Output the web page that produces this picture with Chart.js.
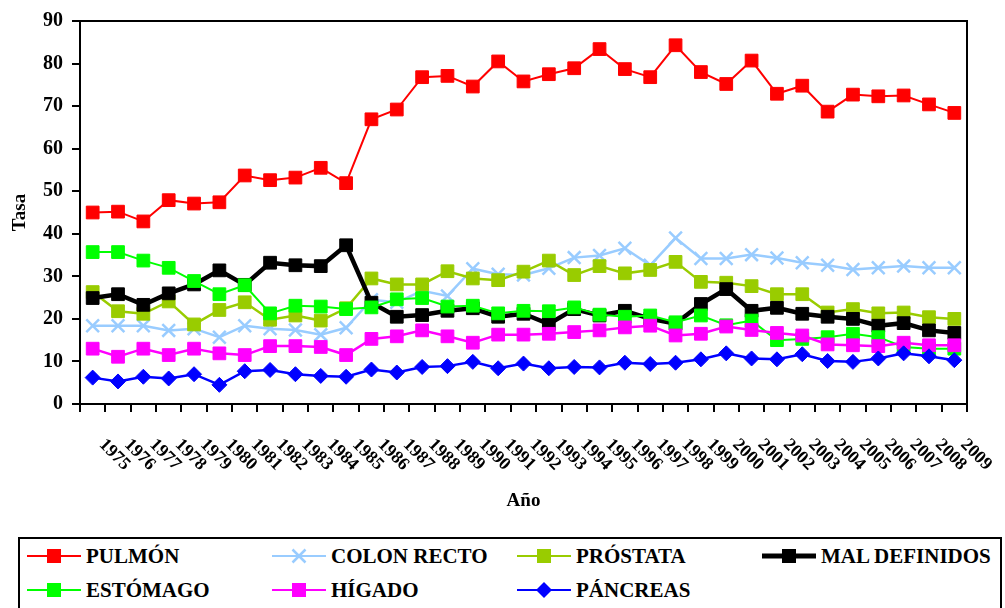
<!DOCTYPE html>
<html>
<head>
<meta charset="utf-8">
<script src="https://cdn.jsdelivr.net/npm/chart.js@4.4.1/dist/chart.umd.min.js"></script>
<style>
  body { margin: 0; background: #fff; }
  #wrap { position: relative; width: 1005px; height: 608px; overflow: hidden; }
  #chart { position: absolute; left: 0; top: 0; }
  #legend {
    position: absolute; left: 18px; top: 537px; width: 984px; height: 84px;
    box-sizing: border-box; border: 2px solid #000; padding-left: 7px;
    display: grid; grid-template-columns: repeat(4, 245px); grid-auto-rows: 34px;
    font-family: "Liberation Serif", "Times New Roman", serif;
    font-weight: bold; font-size: 21px; color: #000;
  }
  .item { display: flex; align-items: center; white-space: nowrap; }
  .item svg { margin-right: 5px; flex: none; }
</style>
</head>
<body>
<div id="wrap">
  <canvas id="chart" width="1005" height="530"></canvas>
  <div id="legend"></div>
</div>
<script>
const years = ['1975', '1976', '1977', '1978', '1979', '1980', '1981', '1982', '1983', '1984',
    '1985', '1986', '1987', '1988', '1989', '1990', '1991', '1992', '1993', '1994',
    '1995', '1996', '1997', '1998', '1999', '2000', '2001', '2002', '2003', '2004',
    '2005', '2006', '2007', '2008', '2009'];

const names = ['PULMÓN', 'COLON RECTO', 'PRÓSTATA', 'MAL DEFINIDOS', 'ESTÓMAGO', 'HÍGADO', 'PÁNCREAS'];

const pulmon = [45.0, 45.2, 42.9, 47.9, 47.1, 47.4, 53.7, 52.6, 53.2, 55.5, 51.9, 66.9, 69.2, 76.8, 77.1, 74.6, 80.5, 75.8,
    77.5, 78.9, 83.4, 78.7, 76.8, 84.3, 78.0, 75.2, 80.7, 72.9, 74.8, 68.7, 72.7, 72.3, 72.5, 70.4, 68.4];
const colonRecto = [18.4, 18.4, 18.4, 17.3, 17.7, 15.7, 18.4, 17.7, 17.4, 16.3, 17.9, 24.5, 23.9, 26.6, 25.4, 31.8, 30.5, 30.3,
    31.9, 34.4, 34.9, 36.6, 32.6, 39.0, 34.2, 34.2, 35.1, 34.3, 33.2, 32.6, 31.6, 32.0, 32.4, 32.0, 32.0];
const prostata = [26.3, 21.8, 21.2, 24.1, 18.7, 22.1, 23.9, 19.8, 20.8, 19.6, 22.5, 29.5, 28.1, 28.1, 31.2, 29.5, 29.1, 31.1,
    33.7, 30.3, 32.4, 30.7, 31.5, 33.4, 28.7, 28.5, 27.7, 25.8, 25.8, 21.5, 22.3, 21.3, 21.5, 20.4, 20.0];
const malDefinidos = [24.9, 25.8, 23.3, 26.0, 28.1, 31.4, 28.0, 33.2, 32.6, 32.4, 37.3, 23.8, 20.5, 20.9, 21.9, 22.5, 20.5, 21.2,
    18.8, 22.3, 20.8, 21.9, 20.0, 18.9, 23.5, 27.0, 21.9, 22.6, 21.2, 20.5, 20.0, 18.4, 19.0, 17.3, 16.7];
const estomago = [35.7, 35.7, 33.7, 32.0, 28.9, 25.8, 27.9, 21.3, 23.1, 22.9, 22.3, 22.7, 24.6, 24.9, 22.9, 23.1, 21.3, 21.9,
    21.8, 22.7, 21.0, 20.5, 20.8, 19.2, 20.8, 18.5, 19.6, 15.0, 15.3, 15.7, 16.5, 15.7, 13.4, 13.0, 13.0];
const higado = [13.0, 11.1, 13.0, 11.5, 13.0, 11.9, 11.5, 13.6, 13.6, 13.4, 11.5, 15.3, 15.9, 17.3, 15.9, 14.4, 16.3, 16.3,
    16.5, 16.9, 17.3, 18.0, 18.4, 16.1, 16.5, 18.2, 17.4, 16.7, 16.1, 14.0, 13.8, 13.6, 14.4, 13.8, 13.8];
const pancreas = [6.2, 5.3, 6.4, 6.0, 7.0, 4.5, 7.7, 8.0, 7.0, 6.6, 6.4, 8.1, 7.4, 8.7, 8.9, 9.9, 8.4, 9.5,
    8.4, 8.7, 8.6, 9.7, 9.4, 9.7, 10.5, 11.9, 10.7, 10.5, 11.7, 10.1, 9.9, 10.7, 11.9, 11.2, 10.3];

const serif = 'Liberation Serif';

// estilo de cada serie: color, forma del marcador, grosor de línea
const styles = [
    { color: '#FF0000', shape: 'rect', line: 2 },
    { color: '#99CCFF', shape: 'crossRot', line: 2.5 },
    { color: '#99CC00', shape: 'rect', line: 2.5 },
    { color: '#000000', shape: 'rect', line: 4.5 },
    { color: '#00FF00', shape: 'rect', line: 2 },
    { color: '#FF00FF', shape: 'rect', line: 2.5 },
    { color: '#0000FF', shape: 'rectRot', line: 2.5 }
];
const values = [pulmon, colonRecto, prostata, malDefinidos, estomago, higado, pancreas];

const datasets = names.map((name, i) => {
    const s = styles[i];
    return {
        label: name,
        data: values[i],
        borderColor: s.color,
        backgroundColor: s.color,
        borderWidth: s.line,
        pointStyle: s.shape,
        pointRadius: s.shape === 'rectRot' ? 7.5 : 9,
        pointBorderWidth: s.shape === 'crossRot' ? 2.5 : 1,
        pointBorderColor: s.color,
        pointBackgroundColor: s.color,
        tension: 0,
        order: names.length - i   // la última serie queda encima
    };
});

// etiquetas de años giradas hacia abajo a la derecha
const yearLabels = {
    id: 'yearLabels',
    afterDraw(chart) {
        const x = chart.scales.x;
        const ctx = chart.ctx;
        ctx.save();
        ctx.font = 'bold 18px "Liberation Serif"';
        ctx.fillStyle = '#000';
        ctx.textAlign = 'left';
        ctx.textBaseline = 'middle';
        years.forEach((label, i) => {
            ctx.save();
            ctx.translate(x.getPixelForTick(i) + 9, x.top + 38);
            ctx.rotate(Math.PI / 4);
            ctx.fillText(label, 0, 0);
            ctx.restore();
        });
        ctx.restore();
    }
};

// marco superior y derecho del área de trazado
const frame = {
    id: 'frame',
    beforeDatasetsDraw(chart) {
        const a = chart.chartArea;
        const ctx = chart.ctx;
        ctx.save();
        ctx.strokeStyle = '#000';
        ctx.lineWidth = 2;
        ctx.beginPath();
        ctx.moveTo(a.left, a.top);
        ctx.lineTo(a.right, a.top);
        ctx.lineTo(a.right, a.bottom);
        ctx.stroke();
        ctx.restore();
    }
};

const chart = new Chart(document.getElementById('chart').getContext('2d'), {
    type: 'line',
    data: { labels: years, datasets: datasets },
    options: {
        responsive: false,
        animation: false,
        layout: { padding: { top: 17, right: 38, left: 0, bottom: 0 } },
        plugins: { legend: { display: false }, tooltip: { enabled: false } },
        scales: {
            x: {
                offset: true,
                grid: { offset: true, drawOnChartArea: false, tickLength: 8, color: '#000', lineWidth: 2 },
                border: { color: '#000', width: 2 },
                ticks: { display: false },
                title: {
                    display: true, text: 'Año', color: '#000',
                    font: { family: serif, weight: 'bold', size: 19 },
                    padding: { top: 0, bottom: 18 }
                },
                afterFit(scale) { scale.height = 126; }
            },
            y: {
                min: 0,
                max: 90,
                ticks: {
                    stepSize: 10, color: '#000', padding: 9,
                    font: { family: serif, weight: 'bold', size: 20 }
                },
                grid: { drawOnChartArea: false, tickLength: 8, color: '#000', lineWidth: 2 },
                border: { color: '#000', width: 2 },
                title: {
                    display: true, text: 'Tasa', color: '#000',
                    font: { family: serif, weight: 'bold', size: 19 },
                    padding: { top: 9, bottom: 0 }
                },
                afterFit(scale) { scale.width = 80; }
            }
        }
    },
    plugins: [frame, yearLabels]
});

// leyenda en cuadro, cuatro columnas
function swatch(ds) {
    const c = ds.borderColor;
    let mark;
    if (ds.pointStyle === 'crossRot') {
        mark = '<path d="M20.5 3.5 L33.5 16.5 M33.5 3.5 L20.5 16.5" stroke="' + c + '" stroke-width="2.5"/>';
    } else if (ds.pointStyle === 'rectRot') {
        mark = '<polygon points="27,2 35,10 27,18 19,10" fill="' + c + '"/>';
    } else {
        mark = '<rect x="20" y="3" width="14" height="14" fill="' + c + '"/>';
    }
    const w = ds.borderWidth > 3 ? 5 : 2;
    return '<svg width="54" height="20"><line x1="0" y1="10" x2="54" y2="10" stroke="' + c +
        '" stroke-width="' + w + '"/>' + mark + '</svg>';
}

document.getElementById('legend').innerHTML = chart.data.datasets
    .map(ds => '<div class="item">' + swatch(ds) + '<span>' + ds.label + '</span></div>')
    .join('');
</script>
</body>
</html>
